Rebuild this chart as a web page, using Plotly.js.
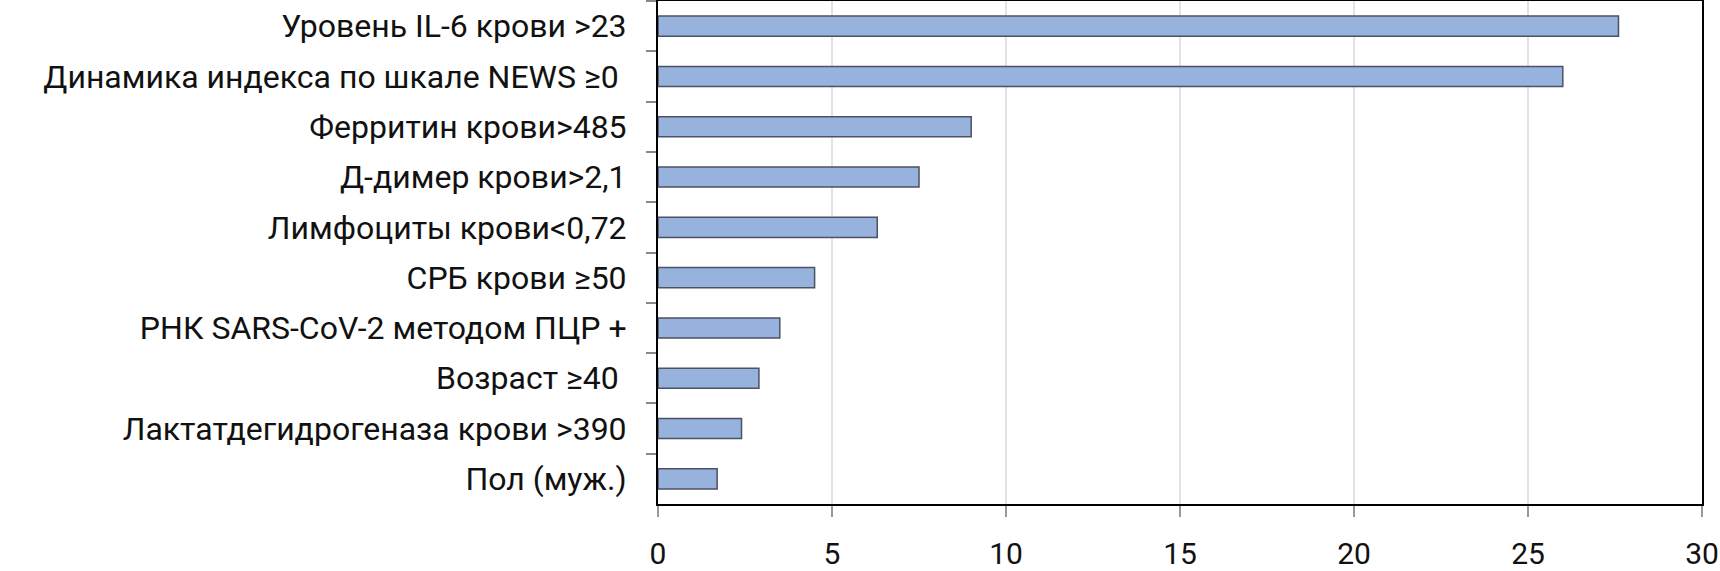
<!DOCTYPE html>
<html><head><meta charset="utf-8">
<script src="https://cdn.plot.ly/plotly-3.0.1.min.js"></script>
<style>html,body{margin:0;padding:0;background:#fff;}#chart{width:1720px;height:571px;}</style>
</head><body><div id="chart"></div>
<script>
var categories = [
  "Уровень IL-6 крови >23",
  "Динамика индекса по шкале NEWS ≥0\u00a0",
  "Ферритин крови>485",
  "Д-димер крови>2,1",
  "Лимфоциты крови<0,72",
  "СРБ крови ≥50",
  "РНК SARS-CoV-2 методом ПЦР +",
  "Возраст ≥40\u00a0",
  "Лактатдегидрогеназа крови >390",
  "Пол (муж.)"
];
var values = [27.6, 26.0, 9.0, 7.5, 6.3, 4.5, 3.5, 2.9, 2.4, 1.7];
var xTicks = [0, 5, 10, 15, 20, 25, 30];

var fontFam = "Roboto, 'Liberation Sans', Arial, sans-serif";

Plotly.newPlot('chart', [{
  type: 'bar',
  orientation: 'h',
  y: categories,
  x: values,
  width: 0.4,
  marker: {color: '#98b2de', line: {color: '#4b5263', width: 1.5}},
  hoverinfo: 'none'
}], {
  width: 1720, height: 571,
  margin: {l: 658, r: 18, t: 1, b: 67, pad: 0},
  paper_bgcolor: '#fff', plot_bgcolor: '#fff',
  showlegend: false,
  font: {family: fontFam, color: '#111'},
  xaxis: {
    range: [0, 30], tickvals: xTicks, ticktext: xTicks.map(String),
    showgrid: true, gridcolor: '#e3e3e3', gridwidth: 2,
    zeroline: false,
    showline: true, linecolor: '#000', linewidth: 2, mirror: true,
    ticks: 'outside', ticklen: 11, tickcolor: '#999', tickwidth: 2,
    tickfont: {size: 30, family: fontFam, color: '#111'},
    ticklabelstandoff: 11
  },
  yaxis: {
    type: 'category', autorange: 'reversed',
    showgrid: false, zeroline: false,
    showline: true, linecolor: '#000', linewidth: 2, mirror: true,
    ticks: 'outside', tickson: 'boundaries', ticklen: 10, tickcolor: '#888', tickwidth: 2,
    tickfont: {size: 32, family: fontFam, color: '#111'},
    ticklabelstandoff: 23
  }
}, {staticPlot: true});
</script></body></html>
